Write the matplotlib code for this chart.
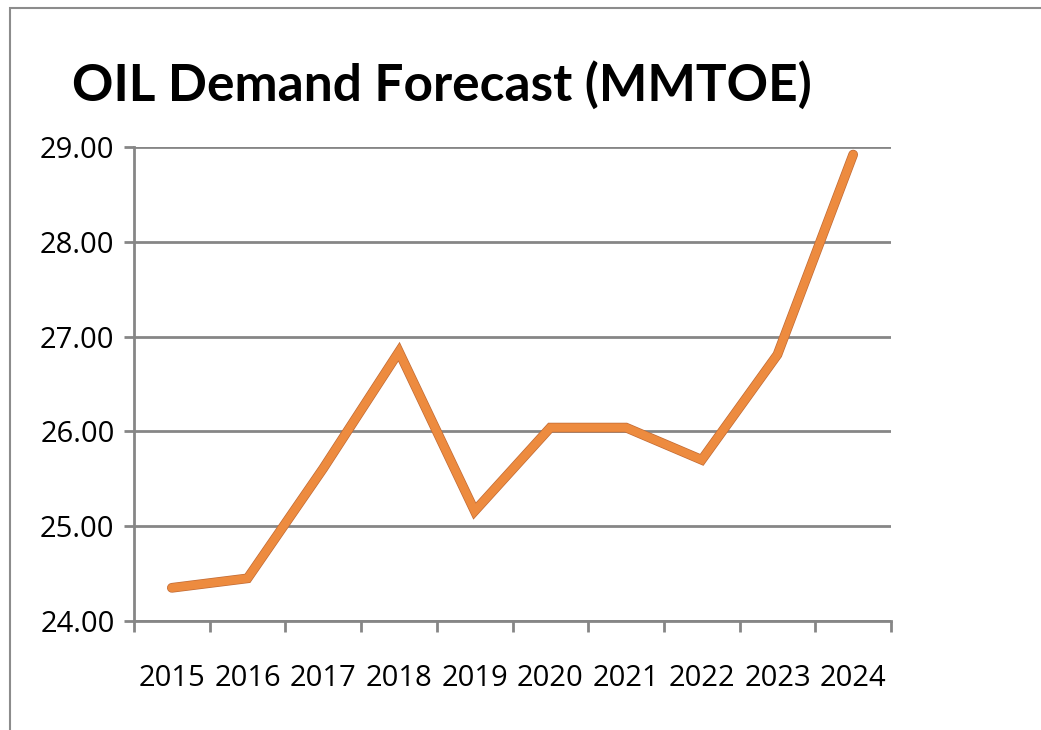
import matplotlib
matplotlib.use("Agg")
import matplotlib.pyplot as plt
import matplotlib.patheffects as pe
from matplotlib.patches import Rectangle
from matplotlib.ticker import FixedLocator, FormatStrFormatter

years = ["2015", "2016", "2017", "2018", "2019", "2020", "2021", "2022", "2023", "2024"]
demand = [24.35, 24.45, 25.61, 26.84, 25.16, 26.04, 26.04, 25.70, 26.81, 28.92]
yticks = [24, 25, 26, 27, 28, 29]
title = "OIL Demand Forecast (MMTOE)"

fig = plt.figure(figsize=(10.41, 7.30), dpi=100)
fig.patch.set_facecolor("white")
# outer chart border
fig.patches.append(Rectangle((10/1041, -0.1), 1.2, 1 - 8/730 + 0.1, transform=fig.transFigure,
                             fill=False, edgecolor="#8c8c8c", linewidth=1.5))

ax = fig.add_axes([134/1041, 1 - 621/730, (891 - 134)/1041, (621 - 147)/730])
x = list(range(len(years)))
ax.plot(x, demand, color="#ED8B3F", linewidth=6.0, solid_joinstyle="miter", solid_capstyle="round",
        path_effects=[pe.Stroke(linewidth=7.0, foreground="#C06A35"), pe.Normal()], zorder=3)

ax.set_xlim(-0.5, len(years) - 0.5)
ax.set_ylim(24, 29)
ax.yaxis.set_major_locator(FixedLocator(yticks))
ax.yaxis.set_major_formatter(FormatStrFormatter("%.2f"))
ax.grid(axis="y", color="#868686", linewidth=2)
ax.set_axisbelow(True)

ax.set_xticks(x)
ax.set_xticklabels(years, fontsize=21, family="Open Sans")
ax.set_xticks([i - 0.5 for i in range(len(years) + 1)], minor=True)
ax.tick_params(axis="x", which="major", length=0, pad=31)
ax.tick_params(axis="x", which="minor", length=8, width=2, color="#868686")
ax.tick_params(axis="y", length=7, width=2, color="#868686", pad=7, labelsize=21)
for lab in ax.get_yticklabels():
    lab.set_family("Open Sans")

for s in ["top", "right"]:
    ax.spines[s].set_visible(False)
for s in ["left", "bottom"]:
    ax.spines[s].set_color("#868686")
    ax.spines[s].set_linewidth(2)

fig.text(72/1041, 1 - 85/730, title, fontsize=37, fontweight="bold", family="Lato",
         va="center", ha="left")

fig.savefig("out.png", dpi=100)
